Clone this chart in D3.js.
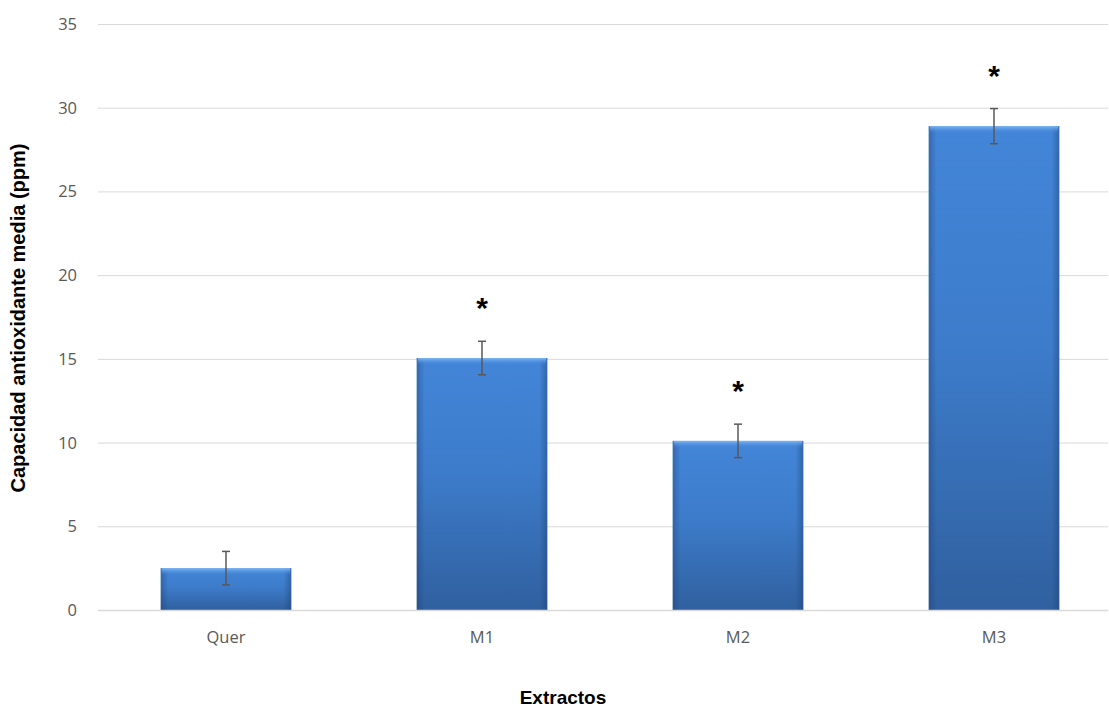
<!DOCTYPE html>
<html>
<head>
<meta charset="utf-8">
<script src="https://cdn.jsdelivr.net/npm/d3@7"></script>
<style>
  html, body { margin: 0; padding: 0; background: #fff; }
  svg { display: block; }
</style>
</head>
<body>
<svg id="chart" width="1109" height="708"></svg>
<script>
// Extract data: mean antioxidant capacity (ppm) with error bars
const categories = ["Quer", "M1", "M2", "M3"];
const means = [2.5, 15.05, 10.1, 28.9];
const errors = [1.0, 1.0, 1.0, 1.05];
const significant = [false, true, true, true];
const yTicks = [0, 5, 10, 15, 20, 25, 30, 35];

const svg = d3.select("#chart");

const x = d3.scaleBand().domain(categories).range([98, 1122]).paddingInner(0.49).paddingOuter(0.245);
const y = d3.scaleLinear().domain([0, 35]).range([610, 24]);

const tickFont = "'Open Sans', Lato, sans-serif";
const titleFont = "'Liberation Sans', Arial, sans-serif";

const defs = svg.append("defs");
// vertical shading of the bars
const gv = defs.append("linearGradient").attr("id", "barV").attr("x1", 0).attr("y1", 0).attr("x2", 0).attr("y2", 1);
gv.append("stop").attr("offset", "0%").attr("stop-color", "#4385D8");
gv.append("stop").attr("offset", "45%").attr("stop-color", "#3D7CCB");
gv.append("stop").attr("offset", "100%").attr("stop-color", "#30609F");
// darker sides
const gh = defs.append("linearGradient").attr("id", "barH").attr("x1", 0).attr("y1", 0).attr("x2", 1).attr("y2", 0);
gh.append("stop").attr("offset", "0%").attr("stop-color", "#1d3f70").attr("stop-opacity", 0.4);
gh.append("stop").attr("offset", "6%").attr("stop-color", "#1d3f70").attr("stop-opacity", 0.0);
gh.append("stop").attr("offset", "94%").attr("stop-color", "#1d3f70").attr("stop-opacity", 0.0);
gh.append("stop").attr("offset", "100%").attr("stop-color", "#1d3f70").attr("stop-opacity", 0.45);
// bevel highlight on top
const gt = defs.append("linearGradient").attr("id", "barTop").attr("x1", 0).attr("y1", 0).attr("x2", 0).attr("y2", 1);
gt.append("stop").attr("offset", "0%").attr("stop-color", "#80B8F5").attr("stop-opacity", 1);
gt.append("stop").attr("offset", "100%").attr("stop-color", "#4385D8").attr("stop-opacity", 0);

// gridlines
svg.append("g").selectAll("line").data(yTicks).join("line")
  .attr("x1", 98).attr("x2", 1108)
  .attr("y1", d => y(d) + 0.5).attr("y2", d => y(d) + 0.5)
  .attr("stroke", "#d9d9d9").attr("stroke-width", 1);

// y tick labels
svg.append("g").selectAll("text").data(yTicks).join("text")
  .attr("x", 77).attr("y", d => y(d)).attr("dy", "0.36em")
  .attr("text-anchor", "end")
  .attr("font-family", tickFont).attr("font-size", 16.5)
  .attr("fill", "#595959")
  .text(d => d);

// bars
const bars = svg.append("g");
categories.forEach((c, i) => {
  const x0 = x(c), bw = x.bandwidth(), yt = y(means[i]), h = y(0) - y(means[i]);
  bars.append("rect").attr("x", x0).attr("y", yt).attr("width", bw).attr("height", h).attr("fill", "url(#barV)");
  bars.append("rect").attr("x", x0).attr("y", yt).attr("width", bw).attr("height", h).attr("fill", "url(#barH)");
  bars.append("rect").attr("x", x0 + 1).attr("y", yt).attr("width", bw - 2).attr("height", Math.min(7, h)).attr("fill", "url(#barTop)");
});

// axis baseline
svg.append("line").attr("x1", 98).attr("x2", 1108).attr("y1", y(0) + 0.5).attr("y2", y(0) + 0.5)
  .attr("stroke", "#d9d9d9").attr("stroke-width", 1.5);

// error bars
const eb = svg.append("g").attr("stroke", "#595959").attr("stroke-width", 1.5);
categories.forEach((c, i) => {
  const cx = x(c) + x.bandwidth() / 2;
  const hi = y(means[i] + errors[i]), lo = y(means[i] - errors[i]);
  eb.append("line").attr("x1", cx).attr("x2", cx).attr("y1", hi).attr("y2", lo);
  eb.append("line").attr("x1", cx - 4).attr("x2", cx + 4).attr("y1", hi).attr("y2", hi);
  eb.append("line").attr("x1", cx - 4).attr("x2", cx + 4).attr("y1", lo).attr("y2", lo);
});

// significance marks
svg.append("g").selectAll("text").data(categories.filter((c, i) => significant[i])).join("text")
  .attr("x", c => x(c) + x.bandwidth() / 2)
  .attr("y", c => { const i = categories.indexOf(c); return y(means[i] + errors[i]) - 23; })
  .attr("text-anchor", "middle")
  .attr("font-family", titleFont).attr("font-size", 30).attr("font-weight", "bold")
  .attr("fill", "#000")
  .text("*");

// x tick labels
svg.append("g").selectAll("text").data(categories).join("text")
  .attr("x", c => x(c) + x.bandwidth() / 2).attr("y", 643)
  .attr("text-anchor", "middle")
  .attr("font-family", tickFont).attr("font-size", 16.5)
  .attr("fill", "#595959")
  .text(c => c);

// axis titles
svg.append("text").attr("x", 563).attr("y", 704)
  .attr("text-anchor", "middle")
  .attr("font-family", titleFont).attr("font-size", 19).attr("font-weight", "bold")
  .attr("fill", "#000").text("Extractos");

svg.append("text").attr("transform", "translate(25,318) rotate(-90)")
  .attr("text-anchor", "middle")
  .attr("font-family", titleFont).attr("font-size", 20).attr("font-weight", "bold")
  .attr("fill", "#000").text("Capacidad antioxidante media (ppm)");
</script>
</body>
</html>
